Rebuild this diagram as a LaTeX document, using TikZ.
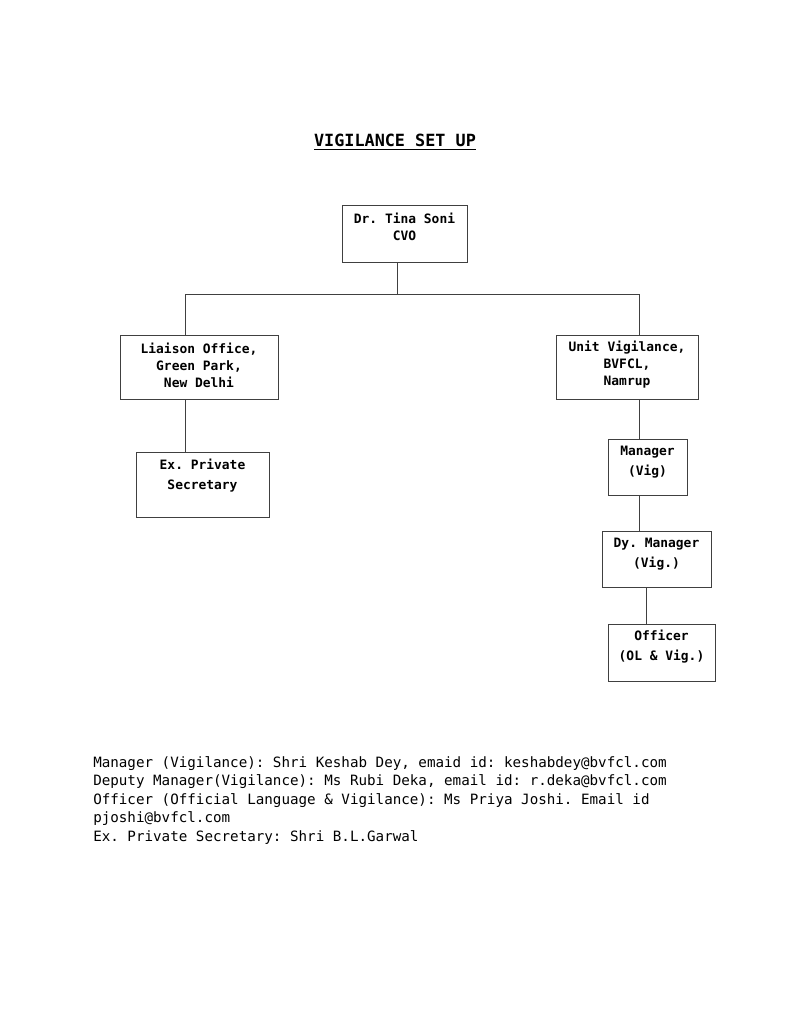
\documentclass[tikz,border=0pt]{standalone}
\usepackage{fontspec}
\setmainfont{DejaVu Sans Mono}
\usepackage{tikz}
\frenchspacing
\newcommand\pxu{0.7737pt}
\tikzset{
  orgbox/.style 2 args={draw=black!75,line width=0.65pt,inner sep=0pt,%
    minimum width=#1*\pxu,minimum height=#2*\pxu},
  orgtext/.style={font=\bfseries\fontsize{10}{13.2}\selectfont,align=center,inner sep=0pt},
  orgtextw/.style={font=\bfseries\fontsize{10}{15.5}\selectfont,align=center,inner sep=0pt},
  link/.style={draw=black!75,line width=0.65pt}
}
\begin{document}
\begin{tikzpicture}[x=0.7737pt,y=-0.7737pt]
      \useasboundingbox (0,0) rectangle (791,1024) ;
      \node[font=\bfseries\fontsize{13}{15}\selectfont,inner sep=0pt] %
      (title) at (395,142) {\underline{VIGILANCE SET UP}} ;
      % boxes
      \node[orgbox={125}{57}] (cvo) at (404.5,233.5) {} ;
      \node[orgtext] (cvo-t) at (404.5,227) {Dr. Tina Soni\\CVO} ;
      \node[orgbox={158}{64}] (liaison) at (199,367) {} ;
      \node[orgtext] (liaison-t) at (199,365) {Liaison Office,\\Green Park,\\New Delhi} ;
      \node[orgbox={142}{64}] (unit) at (627,367) {} ;
      \node[orgtext] (unit-t) at (627,365) {Unit Vigilance,\\BVFCL,\\Namrup} ;
      \node[orgbox={133}{65}] (secy) at (202.5,484.5) {} ;
      \node[orgtextw] (secy-t) at (202.5,476) {Ex. Private\\Secretary} ;
      \node[orgbox={79}{56}] (mgr) at (647.5,467) {} ;
      \node[orgtextw] (mgr-t) at (647.5,462) {Manager\\(Vig)} ;
      \node[orgbox={109}{56}] (dymgr) at (656.5,559) {} ;
      \node[orgtextw] (dymgr-t) at (656.5,554) {Dy. Manager\\(Vig.)} ;
      \node[orgbox={107}{57}] (officer) at (661.5,652.5) {} ;
      \node[orgtextw] (officer-t) at (661.5,646.5) {Officer\\(OL \& Vig.)} ;
      % connectors
      \coordinate (hub) at (397,294) ;
      \coordinate (lft) at (185,294) ;
      \coordinate (rgt) at (639,294) ;
      \coordinate (low) at (646,600) ;
      \draw[link] (cvo.south -| hub) -- (hub) ;
      \draw[link] (liaison.north -| lft) -- (lft) -- (rgt) -- (unit.north -| rgt) ;
      \draw[link] (liaison.south -| lft) -- (secy.north -| lft) ;
      \draw[link] (unit.south -| rgt) -- (mgr.north -| rgt) ;
      \draw[link] (mgr.south -| rgt) -- (dymgr.north -| rgt) ;
      \draw[link] (dymgr.south -| low) -- (officer.north -| low) ;
      % contact lines
      \node[anchor=north west,inner sep=0pt,align=left,%
      font=\fontsize{11}{14.3}\selectfont] (contacts) at (93,756) {%
      Manager (Vigilance): Shri Keshab Dey, emaid id: keshabdey@bvfcl.com\\
      Deputy Manager(Vigilance): Ms Rubi Deka, email id: r.deka@bvfcl.com\\
      Officer (Official Language \& Vigilance): Ms Priya Joshi. Email id\\
      pjoshi@bvfcl.com\\
      Ex. Private Secretary: Shri B.L.Garwal} ;
    \end{tikzpicture}
\end{document}
